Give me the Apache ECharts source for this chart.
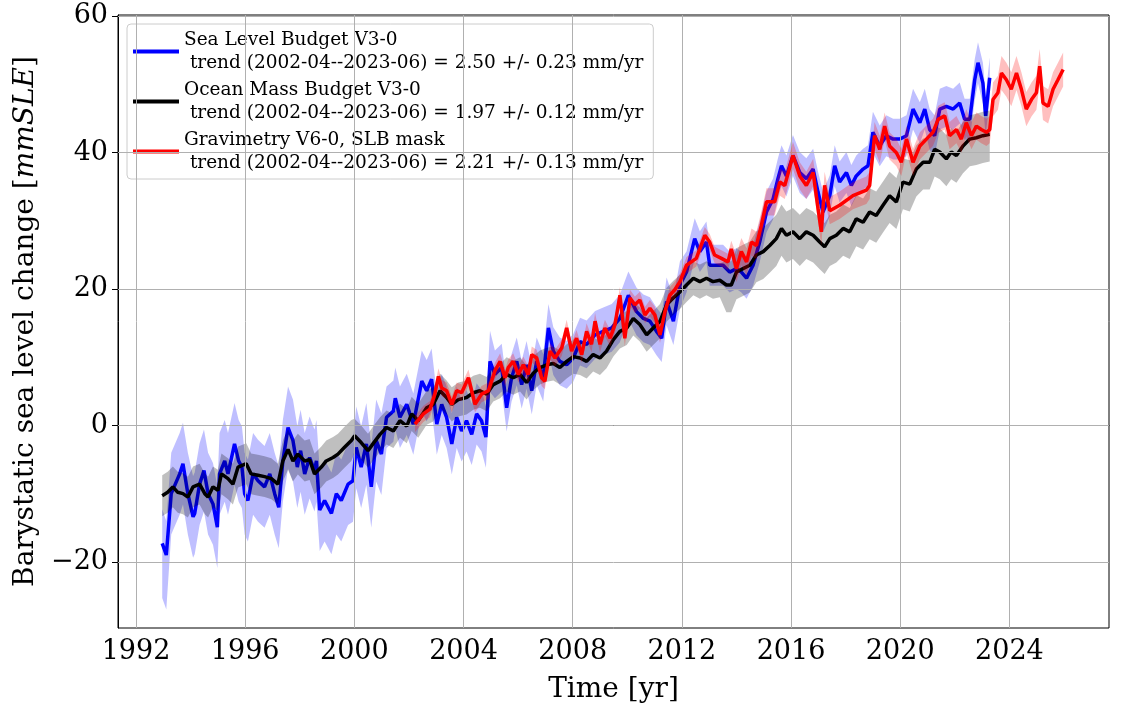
<!DOCTYPE html>
<html><head><meta charset="utf-8">
<script src="https://cdn.jsdelivr.net/npm/echarts@6/dist/echarts.min.js"></script>
<style>html,body{margin:0;padding:0;background:#fff}#c{width:1128px;height:709px}</style>
</head><body><div id="c"></div>
<script>
const blueName = "Sea Level Budget V3-0\n trend (2002-04--2023-06) = 2.50 +/- 0.23 mm/yr";
const blackName = "Ocean Mass Budget V3-0\n trend (2002-04--2023-06) = 1.97 +/- 0.12 mm/yr";
const redName = "Gravimetry V6-0, SLB mask\n trend (2002-04--2023-06) = 2.21 +/- 0.13 mm/yr";

const xTicks = [1992,1996,2000,2004,2008,2012,2016,2020,2024];
const yTicks = [-20,0,20,40,60];

const blueData = [
[1992.96,-17.3],[1993.11,-19.0],[1993.29,-10.0],[1993.60,-7.1],[1993.72,-5.6],[1993.90,-10.0],[1994.09,-13.4],[1994.15,-12.9],[1994.33,-8.6],[1994.49,-6.6],[1994.64,-10.0],[1994.82,-11.5],[1994.98,-14.9],[1995.06,-7.1],[1995.25,-5.2],[1995.37,-7.1],[1995.61,-2.7],[1995.76,-5.2],[1995.88,-6.1],[1995.98,-10.0],[1996.10,-11.0],[1996.29,-7.1],[1996.47,-8.1],[1996.71,-9.0],[1996.90,-7.1],[1997.08,-10.0],[1997.23,-12.0],[1997.38,-5.2],[1997.57,-0.3],[1997.75,-2.2],[1997.91,-6.1],[1998.03,-3.7],[1998.18,-7.1],[1998.36,-4.7],[1998.54,-6.6],[1998.61,-5.2],[1998.73,-12.4],[1998.91,-11.0],[1999.16,-12.9],[1999.34,-10.0],[1999.52,-11.0],[1999.77,-8.6],[1999.95,-8.1],[2000.07,-3.2],[2000.25,-6.1],[2000.44,-2.7],[2000.62,-9.0],[2000.80,-2.2],[2000.99,-4.2],[2001.18,1.2],[2001.43,2.1],[2001.50,4.0],[2001.67,1.2],[2001.92,3.1],[2002.16,0.2],[2002.47,6.5],[2002.65,5.1],[2002.83,6.8],[2003.02,0.2],[2003.20,3.1],[2003.38,1.2],[2003.57,-2.7],[2003.75,1.2],[2003.93,-0.8],[2004.11,0.7],[2004.30,-1.3],[2004.48,1.7],[2004.66,0.7],[2004.82,-1.7],[2004.97,9.4],[2005.15,7.5],[2005.40,8.5],[2005.58,2.6],[2005.76,7.0],[2005.95,9.4],[2006.13,6.0],[2006.31,8.9],[2006.50,5.1],[2006.68,9.4],[2006.92,7.0],[2007.11,14.3],[2007.29,10.9],[2007.53,9.4],[2007.78,8.9],[2008.02,9.9],[2008.27,12.3],[2008.51,11.9],[2008.82,13.3],[2009.12,13.8],[2009.43,14.3],[2009.73,15.7],[2010.04,19.1],[2010.34,16.7],[2010.59,15.7],[2010.83,15.3],[2011.07,13.8],[2011.26,12.8],[2011.44,18.2],[2011.69,15.3],[2011.93,20.6],[2012.17,22.5],[2012.47,27.4],[2012.66,25.5],[2012.90,26.9],[2013.02,23.5],[2013.27,23.5],[2013.51,23.5],[2013.75,22.5],[2014.0,23.0],[2014.18,22.5],[2014.37,21.6],[2014.61,23.5],[2014.85,26.9],[2015.10,31.3],[2015.34,33.2],[2015.52,36.2],[2015.65,38.1],[2015.83,36.6],[2016.07,39.6],[2016.32,37.1],[2016.56,36.2],[2016.81,37.6],[2016.99,34.2],[2017.17,31.3],[2017.42,33.7],[2017.60,38.1],[2017.78,35.7],[2018.03,37.1],[2018.21,35.2],[2018.39,36.6],[2018.64,37.6],[2018.82,38.1],[2019.0,43.0],[2019.25,41.0],[2019.49,42.5],[2019.74,42.0],[2019.98,42.0],[2020.23,42.5],[2020.47,46.4],[2020.72,44.4],[2020.90,46.4],[2021.08,43.4],[2021.26,42.5],[2021.45,46.4],[2021.69,46.8],[2021.94,46.4],[2022.18,47.3],[2022.36,44.9],[2022.55,44.9],[2022.73,50.7],[2022.85,53.2],[2023.03,50.2],[2023.13,45.4],[2023.28,51.0]
];
const blackData = [
[1992.96,-10.3],[1993.16,-9.8],[1993.35,-9.0],[1993.53,-9.8],[1993.72,-10.0],[1993.90,-10.5],[1994.09,-9.0],[1994.33,-8.6],[1994.52,-10.0],[1994.64,-10.5],[1994.82,-9.0],[1995.0,-9.5],[1995.13,-7.1],[1995.37,-7.8],[1995.55,-8.6],[1995.74,-6.1],[1996.04,-5.6],[1996.22,-7.1],[1996.47,-7.3],[1996.71,-7.5],[1996.96,-7.8],[1997.20,-8.6],[1997.38,-5.2],[1997.57,-3.5],[1997.75,-5.2],[1997.93,-4.2],[1998.18,-5.2],[1998.36,-5.0],[1998.54,-7.1],[1998.79,-6.1],[1998.97,-5.2],[1999.22,-4.7],[1999.40,-4.2],[1999.64,-3.2],[1999.89,-2.2],[2000.01,-1.5],[2000.25,-2.5],[2000.50,-3.7],[2000.68,-2.7],[2000.94,-1.3],[2001.18,-0.3],[2001.43,-0.8],[2001.67,0.7],[2001.92,-0.1],[2002.10,1.7],[2002.34,0.7],[2002.65,2.6],[2002.89,3.1],[2003.14,5.1],[2003.38,4.1],[2003.57,3.1],[2003.81,3.8],[2004.11,4.1],[2004.36,4.8],[2004.60,5.1],[2004.85,4.6],[2005.09,6.0],[2005.34,6.5],[2005.58,7.5],[2005.82,7.0],[2006.07,7.5],[2006.31,6.3],[2006.56,7.7],[2006.80,8.5],[2007.05,8.9],[2007.29,9.1],[2007.53,8.5],[2007.78,9.4],[2008.02,10.1],[2008.27,9.9],[2008.51,9.4],[2008.75,10.4],[2009.00,9.9],[2009.24,10.9],[2009.49,12.6],[2009.73,13.8],[2009.98,14.3],[2010.22,15.7],[2010.46,14.8],[2010.71,13.3],[2010.95,14.3],[2011.20,15.3],[2011.44,17.7],[2011.68,18.7],[2011.93,19.6],[2012.17,20.6],[2012.42,21.6],[2012.66,21.1],[2012.90,21.6],[2013.14,21.1],[2013.39,21.3],[2013.63,20.6],[2013.81,20.6],[2014.0,22.5],[2014.24,23.0],[2014.49,23.5],[2014.73,25.0],[2014.98,25.5],[2015.22,26.4],[2015.46,27.4],[2015.65,28.9],[2015.83,27.9],[2016.07,28.4],[2016.32,27.4],[2016.56,28.4],[2016.81,27.9],[2017.05,26.9],[2017.23,26.2],[2017.42,27.4],[2017.66,27.9],[2017.91,28.9],[2018.15,28.4],[2018.39,30.3],[2018.64,29.8],[2018.88,31.3],[2019.12,30.8],[2019.37,32.3],[2019.61,33.7],[2019.86,32.8],[2020.10,35.7],[2020.35,35.4],[2020.59,37.6],[2020.84,38.6],[2021.08,38.6],[2021.26,40.5],[2021.45,40.1],[2021.69,39.1],[2021.87,40.1],[2022.06,39.6],[2022.30,41.0],[2022.55,42.0],[2022.79,42.2],[2023.03,42.5],[2023.28,42.7]
];
const redData = [
[2002.22,0.2],[2002.53,1.7],[2002.77,2.4],[2002.95,4.6],[2003.08,7.2],[2003.20,5.5],[2003.38,5.1],[2003.57,3.1],[2003.75,5.1],[2003.93,4.8],[2004.18,7.0],[2004.42,3.1],[2004.66,4.6],[2004.91,5.1],[2005.15,8.0],[2005.34,9.4],[2005.52,7.0],[2005.64,8.5],[2005.82,9.4],[2006.01,7.5],[2006.19,8.9],[2006.37,7.5],[2006.50,10.4],[2006.68,9.9],[2006.86,7.0],[2006.98,6.5],[2007.17,10.9],[2007.35,9.9],[2007.60,11.4],[2007.78,14.3],[2007.96,10.9],[2008.14,12.8],[2008.33,10.4],[2008.51,13.8],[2008.69,11.9],[2008.82,15.3],[2009.00,11.9],[2009.18,14.3],[2009.37,12.8],[2009.55,14.8],[2009.73,19.1],[2009.91,12.8],[2010.10,18.7],[2010.28,17.7],[2010.46,18.4],[2010.65,16.2],[2010.83,17.2],[2011.01,16.2],[2011.20,13.3],[2011.38,16.7],[2011.56,19.1],[2011.74,19.9],[2011.93,21.1],[2012.17,23.5],[2012.53,24.5],[2012.84,27.9],[2013.02,26.9],[2013.20,25.0],[2013.45,24.5],[2013.69,24.0],[2013.81,25.9],[2014.00,23.0],[2014.18,25.5],[2014.37,24.0],[2014.55,26.9],[2014.73,26.4],[2014.91,29.3],[2015.10,32.8],[2015.40,32.8],[2015.59,35.7],[2015.77,35.2],[2016.07,39.6],[2016.32,36.6],[2016.56,35.2],[2016.81,37.1],[2016.99,31.8],[2017.11,28.4],[2017.23,35.2],[2017.42,31.5],[2017.78,32.3],[2018.27,33.7],[2018.76,34.5],[2018.88,35.2],[2019.06,42.5],[2019.25,40.5],[2019.43,43.9],[2019.61,41.0],[2019.86,40.0],[2020.04,38.6],[2020.23,42.0],[2020.47,38.6],[2020.72,41.0],[2020.96,42.0],[2021.20,43.0],[2021.39,44.9],[2021.63,45.4],[2021.81,42.5],[2022.06,43.4],[2022.24,42.0],[2022.42,44.4],[2022.61,42.5],[2022.79,43.9],[2022.97,43.4],[2023.16,43.0],[2023.28,43.4],[2023.40,47.8],[2023.58,48.8],[2023.71,51.7],[2023.89,50.7],[2024.07,49.3],[2024.26,51.7],[2024.44,49.3],[2024.62,46.4],[2024.81,47.8],[2024.99,48.8],[2025.11,52.7],[2025.23,47.3],[2025.42,46.8],[2025.60,49.3],[2025.78,50.7],[2025.97,52.2]
];
// uncertainty steps: [from year, lower half-width, upper half-width]
const blueUnc = [[1992.9,8,5],[1993.2,6,6],[2001,4.5,4.5],[2005,3.5,3.5],[2012,3,3]];
const blackUnc = [[1992.9,3,3],[2000,2.5,2.5],[2013.5,4,3.5]];
const redUnc = [[2002,1.2,1.2],[2014,2,2],[2023.3,2.5,2.5]];

function unc(steps, t){let u=steps[0];for(const s of steps){if(t>=s[0])u=s;}return u;}
function bandSeries(data, steps, color, z){
  return {type:'custom', silent:true, z:z, data:[[data[0][0],data[0][1]]],
    renderItem:function(params, api){
      const up=[], lo=[];
      for(const d of data){const u=unc(steps,d[0]);up.push(api.coord([d[0],d[1]+u[2]]));lo.push(api.coord([d[0],d[1]-u[1]]));}
      return {type:'polygon', shape:{points:up.concat(lo.reverse())}, style:{fill:color, stroke:null}};
    }};
}
const serif = "'DejaVu Serif', serif";
const chart = echarts.init(document.getElementById('c'));
chart.setOption({
  animation:false,
  grid:{left:118,right:19,top:15,bottom:77,show:true,borderColor:'#000',borderWidth:1},
  xAxis:{type:'value',min:1991.34,max:2027.65,
    name:'Time [yr]',nameLocation:'middle',nameGap:48,nameTextStyle:{fontFamily:serif,fontSize:28,color:'#000'},
    axisLine:{show:true,lineStyle:{color:'#000'}},splitLine:{show:false},
    axisTick:{show:true,customValues:xTicks,length:6,lineStyle:{color:'#000'}},
    axisLabel:{customValues:xTicks,fontFamily:serif,fontSize:27,color:'#000',margin:10,formatter:v=>String(v)}},
  yAxis:{type:'value',min:-29.7,max:60.2,
    name:'{a|Barystatic sea level change [}{b|mmSLE}{a|]}',nameLocation:'middle',nameRotate:90,nameGap:72,
    nameTextStyle:{rich:{a:{fontFamily:serif,fontSize:28,color:'#000'},b:{fontFamily:serif,fontSize:28,fontStyle:'italic',color:'#000'}}},
    axisLine:{show:true,lineStyle:{color:'#000'}},splitLine:{show:false},
    axisTick:{show:true,customValues:yTicks,length:6,lineStyle:{color:'#000'}},
    axisLabel:{customValues:yTicks,fontFamily:serif,fontSize:27,color:'#000',margin:10,
      formatter:v=>v<0?'\u2212'+Math.abs(v):String(v)}},
  legend:{left:127,top:24,orient:'vertical',padding:[5,10,5,6],itemGap:5,itemWidth:46,itemHeight:4,icon:'rect',
    backgroundColor:'#fff',borderColor:'#ccc',borderWidth:1,borderRadius:4,
    textStyle:{fontFamily:serif,fontSize:18.5,lineHeight:22.5,color:'#000'},
    data:[blueName,blackName,redName]},
  series:[
    {type:'line',silent:true,data:[[1900,0]],symbol:'none',z:0,
     markLine:{silent:true,symbol:'none',label:{show:false},lineStyle:{color:'#b0b0b0',width:1,type:'solid'},
       data:xTicks.map(v=>({xAxis:v})).concat(yTicks.map(v=>({yAxis:v})))}},
    bandSeries(blueData,blueUnc,'rgba(0,0,255,0.25)',1),
    {name:blueName,type:'line',data:blueData,symbol:'none',lineStyle:{color:'#0000ff',width:3.5},itemStyle:{color:'#0000ff'},z:2},
    bandSeries(blackData,blackUnc,'rgba(0,0,0,0.25)',3),
    {name:blackName,type:'line',data:blackData,symbol:'none',lineStyle:{color:'#000',width:3.5},itemStyle:{color:'#000'},z:4},
    bandSeries(redData,redUnc,'rgba(255,0,0,0.25)',5),
    {name:redName,type:'line',data:redData,symbol:'none',lineStyle:{color:'#ff0000',width:3.5},itemStyle:{color:'#ff0000'},z:6}
  ]
});
</script></body></html>
